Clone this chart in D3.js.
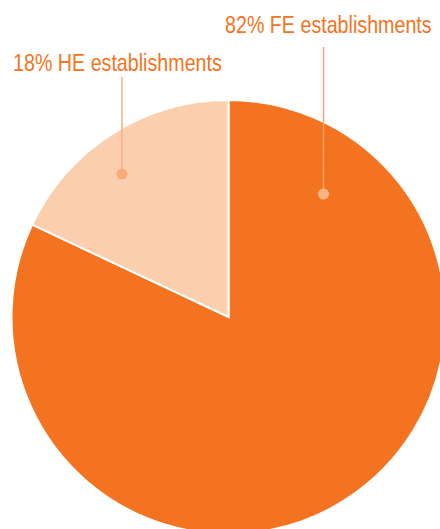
<!DOCTYPE html>
<html>
<head>
<meta charset="utf-8">
<script src="https://cdn.jsdelivr.net/npm/d3@7"></script>
<style>
  html, body { margin: 0; padding: 0; background: #fff; overflow: hidden; }
  svg { display: block; }
  text { font-family: "Liberation Sans", Arial, Helvetica, sans-serif; }
</style>
</head>
<body>
<svg id="chart" width="440" height="529"></svg>
<script>
const categories = ["FE establishments", "HE establishments"];
const values = [82, 18];
const sliceColors = ["#F47321", "#FBCFAD"];

const W = 440, H = 529;
const cx = 228.5, cy = 317, R = 217;

const svg = d3.select("#chart");
const g = svg.append("g").attr("transform", `translate(${cx},${cy})`);

const data = categories.map((c, i) => ({ category: c, value: values[i] }));
const pie = d3.pie().sort(null).value(d => d.value);
const arc = d3.arc().innerRadius(0).outerRadius(R);
const color = d3.scaleOrdinal().domain(categories).range(sliceColors);

const arcs = pie(data);
g.selectAll("path.slice")
  .data(arcs)
  .join("path")
  .attr("class", "slice")
  .attr("d", arc)
  .attr("fill", d => color(d.data.category))
  .attr("stroke", "#ffffff")
  .attr("stroke-width", 2)
  .attr("stroke-linejoin", "miter");

// annotation layout (position of label text, leader line, dot)
const layout = {
  "FE establishments": { tx: 225, ty: 33, lx: 323.5, ly1: 47, ly2: 194, line: "#F9A56E", dot: "#F9B486" },
  "HE establishments": { tx: 13, ty: 71, lx: 122, ly1: 77, ly2: 174, line: "#F8AE7C", dot: "#F7AB78" }
};

const ann = svg.append("g");
arcs.forEach(d => {
  const L = layout[d.data.category];
  ann.append("line")
    .attr("x1", L.lx).attr("x2", L.lx)
    .attr("y1", L.ly1).attr("y2", L.ly2)
    .attr("stroke", L.line).attr("stroke-width", 1.5);
  ann.append("circle")
    .attr("cx", L.lx).attr("cy", L.ly2).attr("r", 5.5)
    .attr("fill", L.dot);
  ann.append("text")
    .attr("transform", `translate(${L.tx},${L.ty}) scale(0.82,1)`)
    .attr("font-size", 24)
    .attr("fill", "#F47321")
    .text(`${d.data.value}% ${d.data.category}`);
});
</script>
</body>
</html>
